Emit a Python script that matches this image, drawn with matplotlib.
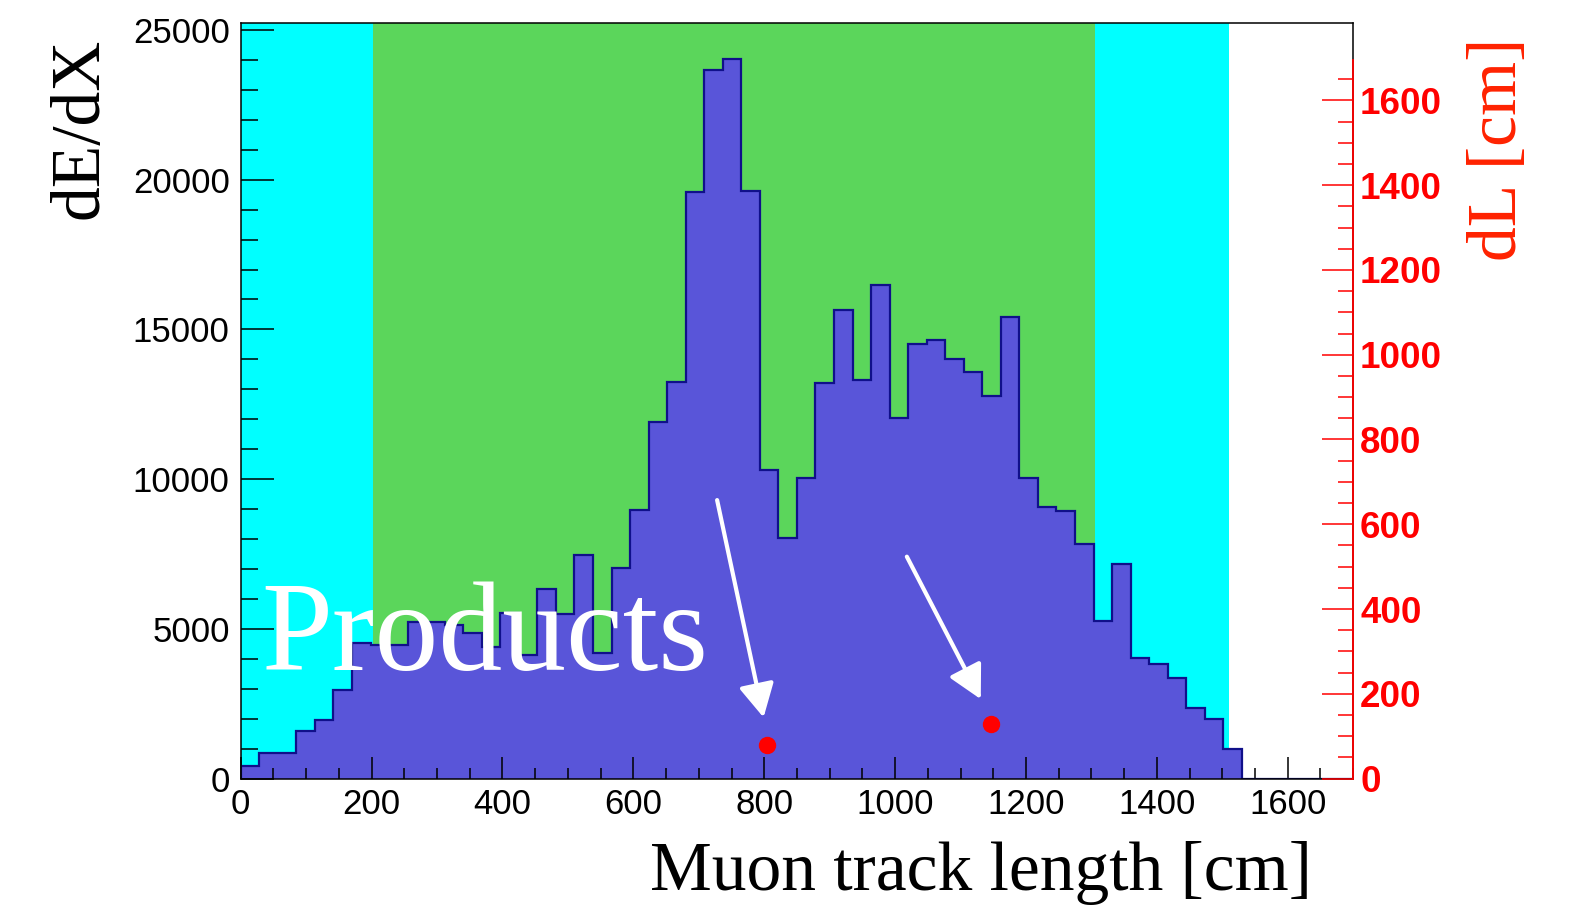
import numpy as np
import matplotlib
matplotlib.use("Agg")
import matplotlib.pyplot as plt
from matplotlib.ticker import MultipleLocator, FixedLocator

# Data: 60 bins over 0..1700 cm
bin_edges = np.linspace(0, 1700, 61)
dedx = [430, 860, 840, 1580, 1950, 2960, 4520, 4460, 4460, 5240,
        5240, 5130, 4850, 4400, 5540, 4130, 6320, 5490, 7470, 4180,
        7020, 8960, 11920, 13230, 19590, 23660, 24030, 19630, 10310, 8040,
        10030, 13210, 15640, 13320, 16470, 12040, 14520, 14640, 14010, 13590,
        12780, 15400, 10050, 9070, 8940, 7820, 5260, 7160, 4040, 3820,
        3370, 2370, 1990, 985, 0, 0, 0, 0, 0, 0]

# detector regions (cm)
cyan_region = (0, 1510)
green_region = (202, 1306)

# red points on the dL axis
point_x = [805, 1147]
point_dl = [78, 129]

# arrows (start x, start y, tip x, tip y) in dE/dX units
arrows = [(728, 9300, 799, 2040), (1018, 7410, 1131, 2650)]

fig = plt.figure(figsize=(15.82, 9.06), dpi=100)
ax = fig.add_axes([0.1522, 0.1407, 0.8553 - 0.1522, 0.9746 - 0.1407])

ax.axvspan(*cyan_region, color='#00ffff', lw=0, zorder=0)
ax.axvspan(*green_region, color='#5bd65b', lw=0, zorder=0.5)

ax.stairs(dedx, bin_edges, fill=True, color='#5955d9', zorder=1)
ax.stairs(dedx, bin_edges, color='#10108a', lw=1.6, zorder=2)

ax.set_xlim(0, 1700)
ax.set_ylim(0, 25234)

ax.xaxis.set_major_locator(MultipleLocator(200))
ax.xaxis.set_minor_locator(MultipleLocator(50))
ax.yaxis.set_major_locator(MultipleLocator(5000))
ax.yaxis.set_minor_locator(MultipleLocator(1000))
ax.tick_params(axis='x', which='major', direction='in', length=16, width=1.1, pad=7,
               labelsize=25, top=False)
ax.tick_params(axis='x', which='minor', direction='in', length=8, width=1.1, top=False)
ax.tick_params(axis='y', which='major', direction='in', length=24, width=1.1, pad=8,
               labelsize=25, right=False)
ax.tick_params(axis='y', which='minor', direction='in', length=12, width=1.1, right=False)
for lab in ax.get_xticklabels() + ax.get_yticklabels():
    lab.set_fontfamily('Liberation Sans')
for sp in ax.spines.values():
    sp.set_linewidth(1.1)

# annotations
ax.text(32, 3620, 'Products', color='white', fontsize=92, family='Liberation Serif',
        va='baseline', ha='left', zorder=5)
for x0, y0, x1, y1 in arrows:
    ax.annotate('', xy=(x1, y1), xytext=(x0, y0),
                arrowprops=dict(arrowstyle='-|>,head_length=0.85,head_width=0.45',
                                color='white', lw=3, mutation_scale=24,
                                shrinkA=0, shrinkB=0), zorder=5)

# right axis (dL)
ax2 = ax.twinx()
ax2.set_ylim(0, 1782.7)
ax2.plot(point_x, point_dl, 'o', color='red', markersize=11.5, zorder=6)
ax2.yaxis.set_major_locator(FixedLocator(np.arange(0, 1601, 200)))
ax2.yaxis.set_minor_locator(FixedLocator(np.arange(0, 1700, 50)))
ax2.tick_params(axis='y', which='major', direction='in', length=22, width=1.1,
                color='red', labelcolor='red', labelsize=26.5, pad=5)
ax2.tick_params(axis='y', which='minor', direction='in', length=11, width=1.1, color='red')
for lab in ax2.get_yticklabels():
    lab.set_fontfamily('Liberation Sans')
    lab.set_fontweight('bold')
for k in ['top', 'left', 'bottom']:
    ax2.spines[k].set_visible(False)
ax2.spines['right'].set_color('red')
ax2.spines['right'].set_linewidth(1.3)
ax2.spines['right'].set_bounds(0, 1695)

# axis titles
fig.text(1312 / 1582, 1 - 890 / 906, 'Muon track length [cm]', family='Liberation Serif',
         fontsize=50, ha='right', va='baseline')
fig.text(81 / 1582, 1 - 38 / 906, 'dE/dX', family='Liberation Serif', fontsize=50,
         rotation=90, ha='center', va='top')
fig.text(1499 / 1582, 1 - 38 / 906, 'dL [cm]', family='Liberation Serif', fontsize=50,
         rotation=90, ha='center', va='top', color='#ff2200')

fig.savefig('out.png', dpi=100)
